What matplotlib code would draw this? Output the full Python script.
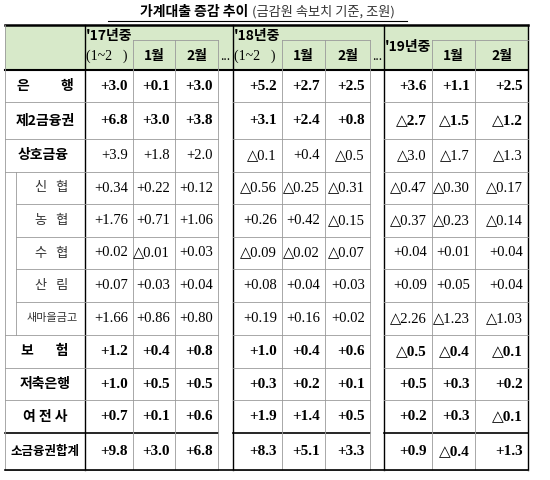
import matplotlib.pyplot as plt

plt.rcParams['font.family'] = ['Noto Sans CJK KR', 'DejaVu Sans']

title = '가계대출 증감 추이'
subtitle = '(금감원 속보치 기준, 조원)'
row_labels = ['은          행', '제2금융권', '상호금융', '신   협', '농   협', '수   협', '산   림',
              '새마을금고', '보       험', '저축은행', '여 전 사', '소금융권합계']
y17 = ['+3.0', '+6.8', '+3.9', '+0.34', '+1.76', '+0.02', '+0.07', '+1.66', '+1.2', '+1.0', '+0.7', '+9.8']
m17_1 = ['+0.1', '+3.0', '+1.8', '+0.22', '+0.71', '△0.01', '+0.03', '+0.86', '+0.4', '+0.5', '+0.1', '+3.0']
m17_2 = ['+3.0', '+3.8', '+2.0', '+0.12', '+1.06', '+0.03', '+0.04', '+0.80', '+0.8', '+0.5', '+0.6', '+6.8']
y18 = ['+5.2', '+3.1', '△0.1', '△0.56', '+0.26', '△0.09', '+0.08', '+0.19', '+1.0', '+0.3', '+1.9', '+8.3']
m18_1 = ['+2.7', '+2.4', '+0.4', '△0.25', '+0.42', '△0.02', '+0.04', '+0.16', '+0.4', '+0.2', '+1.4', '+5.1']
m18_2 = ['+2.5', '+0.8', '△0.5', '△0.31', '△0.15', '△0.07', '+0.03', '+0.02', '+0.6', '+0.1', '+0.5', '+3.3']
y19 = ['+3.6', '△2.7', '△3.0', '△0.47', '△0.37', '+0.04', '+0.09', '△2.26', '△0.5', '+0.5', '+0.2', '+0.9']
m19_1 = ['+1.1', '△1.5', '△1.7', '△0.30', '△0.23', '+0.01', '+0.05', '△1.23', '△0.4', '+0.3', '+0.3', '△0.4']
m19_2 = ['+2.5', '△1.2', '△1.3', '△0.17', '△0.14', '+0.04', '+0.04', '△1.03', '△0.1', '+0.2', '△0.1', '+1.3']
columns = [y17, m17_1, m17_2, None, y18, m18_1, m18_2, None, y19, m19_1, m19_2]

col_x = [5, 85, 133, 175, 218, 233, 282, 325, 370, 384, 432, 475, 528]
row_y = [70, 102, 139, 172, 204, 237, 269, 302, 335, 368, 400, 433, 470]
bold_rows = {0, 1, 8, 9, 10, 11}
sub_rows = {3, 4, 5, 6, 7}
green = '#d7e9c9'
grey = '#9a9a9a'
num_font = ['Liberation Serif', 'DejaVu Serif']

fig = plt.figure(figsize=(5.5, 4.8), dpi=100)
ax = fig.add_axes([0, 0, 1, 1])
ax.set_xlim(0, 550)
ax.set_ylim(480, 0)
ax.axis('off')

ax.text(248, 12, title, ha='right', va='center', fontsize=10, fontweight='bold')
ax.text(252, 12, subtitle, ha='left', va='center', fontsize=9.5, color='#333333')
ax.plot([108, 407], [21, 21], color='black', lw=0.8)

# header
ax.add_patch(plt.Rectangle((col_x[0], 25), col_x[-1] - col_x[0], 45, color=green, lw=0))
ax.plot([col_x[0], col_x[-1]], [25, 25], color='black', lw=1.8)
ax.plot([col_x[0], col_x[-1]], [70, 70], color='black', lw=1.5)
for i, lab in [(1, "'17년중"), (5, "'18년중")]:
    ax.text(col_x[i] + 1, 36, lab, ha='left', va='center', fontsize=10, fontweight='bold')
    ax.text(col_x[i] + 1, 56, '(1~2월)', ha='left', va='center', fontsize=10, family=num_font)
ax.text(col_x[9] + 1, 47, "'19년중", ha='left', va='center', fontsize=10, fontweight='bold')
for i in [2, 3, 6, 7, 10, 11]:
    ax.text((col_x[i] + col_x[i + 1]) / 2, 56, '1월' if i in (2, 6, 10) else '2월',
            ha='center', va='center', fontsize=10, fontweight='bold')
for i in [4, 8]:
    ax.text((col_x[i] + col_x[i + 1]) / 2, 56, '...', ha='center', va='center', fontsize=9)
for i in [1, 5, 9, 12]:
    ax.plot([col_x[i]] * 2, [25, 470], color='black', lw=1)
for i in [2, 3, 4, 6, 7, 8, 10, 11]:
    ax.plot([col_x[i]] * 2, [40, 70], color=grey, lw=0.6)
for a, b in [(2, 4), (6, 8), (10, 12)]:
    ax.plot([col_x[a], col_x[b]], [40, 40], color=grey, lw=0.6)

# body
for r, lab in enumerate(row_labels):
    yc = (row_y[r] + row_y[r + 1]) / 2
    w = 'bold' if r in bold_rows else 'normal'
    if r in sub_rows:
        ax.text(52, yc, lab, ha='center', va='center', fontsize=8 if r == 7 else 9.5, color='#333333')
    elif r == 2:
        ax.text(18, yc, lab, ha='left', va='center', fontsize=10, fontweight='bold')
    else:
        ax.text(45, yc, lab, ha='center', va='center', fontsize=9 if r == 11 else 10, fontweight=w)
    for c, vals in enumerate(columns):
        if vals is None:
            continue
        x2 = col_x[c + 2]
        ax.text(x2 - 5, yc, vals[r], ha='right', va='center', fontsize=11 if r in bold_rows else 10.5,
                fontweight=w, family=num_font)
    y = row_y[r + 1]
    lw = 1.2 if r == 10 else 0.6
    col = 'black' if r == 10 else grey
    x0 = 16 if r in (3, 4, 5, 6) else 5
    for a, b in [(0, 4), (5, 8), (9, 12)]:
        xa = x0 if a == 0 else col_x[a]
        ax.plot([xa, col_x[b]], [y, y], color=col, lw=lw)
    for i in [2, 3, 4, 6, 7, 8, 10, 11]:
        ax.plot([col_x[i]] * 2, [row_y[r], row_y[r + 1]], color=grey, lw=0.6)
ax.plot([16, 16], [172, 335], color=grey, lw=0.6)
ax.plot([5, 5], [25, 470], color=grey, lw=0.6)
ax.plot([col_x[0], col_x[-1]], [470, 470], color='black', lw=1.2)

fig.savefig('out.png')
